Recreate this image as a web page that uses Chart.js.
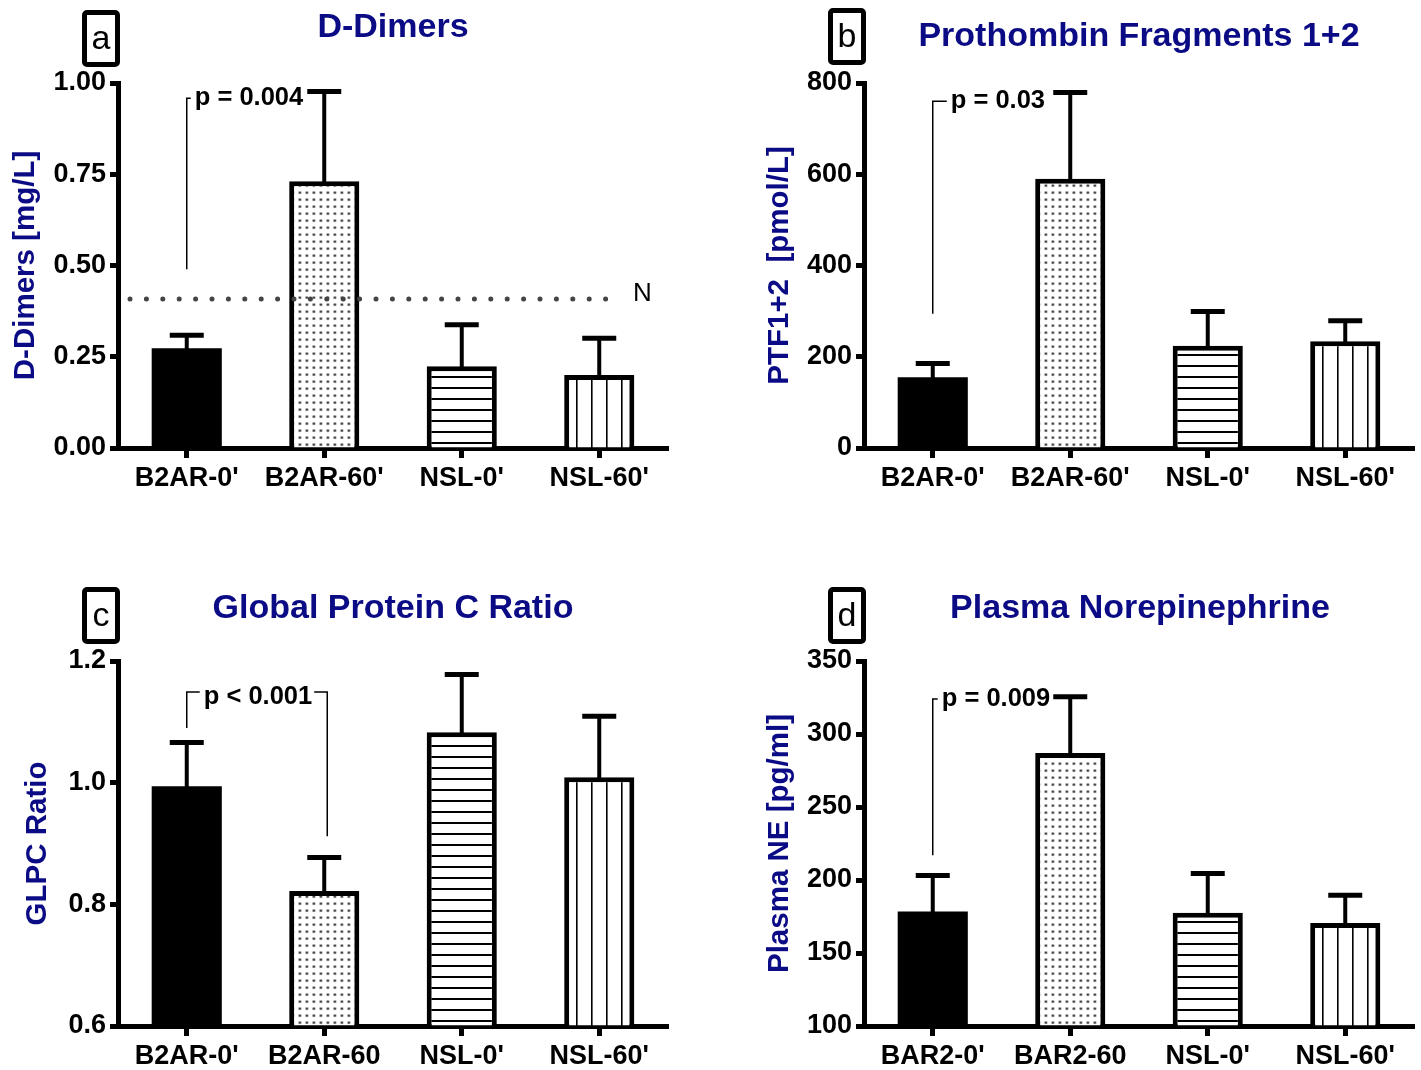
<!DOCTYPE html>
<html>
<head>
<meta charset="utf-8">
<script src="https://cdn.jsdelivr.net/npm/chart.js@4.4.1/dist/chart.umd.min.js"></script>
<style>
  body { margin: 0; background: #fff; font-family: "Liberation Sans", Arial, sans-serif; }
  #page { position: relative; width: 1421px; height: 1070px; overflow: hidden; }
  .panel { position: absolute; }
  .title { position: absolute; width: 700px; text-align: center; font-weight: bold; font-size: 34px; color: #0b0b85; line-height: 40px; }
  .tag { position: absolute; box-sizing: border-box; border: 5px solid #000; border-radius: 5px; width: 38px; height: 57px;
         font-size: 34px; line-height: 44px; text-align: center; color: #000; }
</style>
</head>
<body>
<div id="page">
  <div class="panel" style="left:0;top:0"><canvas id="chartA" width="710" height="535"></canvas></div>
  <div class="panel" style="left:710px;top:0"><canvas id="chartB" width="711" height="535"></canvas></div>
  <div class="panel" style="left:0;top:535px"><canvas id="chartC" width="710" height="535"></canvas></div>
  <div class="panel" style="left:710px;top:535px"><canvas id="chartD" width="711" height="535"></canvas></div>

  <div class="tag" style="left:82px;top:10px">a</div>
  <div class="tag" style="left:828px;top:8px">b</div>
  <div class="tag" style="left:82px;top:587px">c</div>
  <div class="tag" style="left:828px;top:587px">d</div>

  <div class="title" style="left:43px;top:5px">D-Dimers</div>
  <div class="title" style="left:789px;top:14px">Prothombin Fragments 1+2</div>
  <div class="title" style="left:43px;top:586px">Global Protein C Ratio</div>
  <div class="title" style="left:790px;top:586px">Plasma Norepinephrine</div>
</div>

<script>
// --- data ---
const groupsAB = ["B2AR-0'", "B2AR-60'", "NSL-0'", "NSL-60'"];
const groupsC = ["B2AR-0'", "B2AR-60", "NSL-0'", "NSL-60'"];
const groupsD = ["BAR2-0'", "BAR2-60", "NSL-0'", "NSL-60'"];

const dDimerMean = [0.273, 0.731, 0.224, 0.200];
const dDimerErr = [0.036, 0.246, 0.114, 0.101];
const dDimerNormal = 0.408;

const ptfMean = [155, 590, 224, 234];
const ptfErr = [30, 189, 75, 45];

const glpcMean = [0.994, 0.822, 1.083, 1.009];
const glpcErr = [0.072, 0.055, 0.095, 0.100];

const neMean = [178.5, 287, 177.5, 170.5];
const neErr = [24.5, 38.5, 27, 19];

const FONT = '"Liberation Sans", Arial, sans-serif';
const NAVY = '#0b0b85';

// fill for each bar: solid, dotted, horizontal lines, vertical lines
function barFill(chart, i) {
  if (i === 0) return '#000';
  const xs = chart.scales.x;
  if (!xs || !chart.chartArea) return '#fff';
  const cx = xs.getPixelForValue(i);
  const bottom = chart.chartArea.bottom;
  const tile = document.createElement('canvas');
  const t = tile.getContext('2d');
  let dx = 0, dy = 0;
  if (i === 1) {
    tile.width = 7; tile.height = 7;
    t.fillStyle = '#fff'; t.fillRect(0, 0, 7, 7);
    t.fillStyle = '#222'; t.fillRect(2.5, 2.5, 2.2, 2.2);
    dx = cx; dy = bottom;
  } else if (i === 2) {
    tile.width = 8; tile.height = 11;
    t.fillStyle = '#fff'; t.fillRect(0, 0, 8, 11);
    t.fillStyle = '#000'; t.fillRect(0, 0, 8, 2);
    dy = bottom - 6;
  } else {
    tile.width = 15; tile.height = 8;
    t.fillStyle = '#fff'; t.fillRect(0, 0, 15, 8);
    t.fillStyle = '#000'; t.fillRect(0, 0, 1.6, 8);
    dx = cx - 8.3;
  }
  const p = chart.ctx.createPattern(tile, 'repeat');
  p.setTransform(new DOMMatrix().translate(dx, dy));
  return p;
}

// upper error bars
const errorBars = {
  id: 'errorBars',
  afterDatasetsDraw(chart) {
    const ctx = chart.ctx;
    const ds = chart.data.datasets[0];
    const ys = chart.scales.y;
    ctx.save();
    ctx.strokeStyle = '#000';
    chart.getDatasetMeta(0).data.forEach((bar, i) => {
      const top = ys.getPixelForValue(ds.data[i] + ds.errorPlus[i]);
      ctx.lineWidth = 4;
      ctx.beginPath();
      ctx.moveTo(bar.x, bar.y + 3);
      ctx.lineTo(bar.x, top);
      ctx.stroke();
      ctx.lineWidth = 5;
      ctx.beginPath();
      ctx.moveTo(bar.x - 17, top);
      ctx.lineTo(bar.x + 17, top);
      ctx.stroke();
    });
    ctx.restore();
  }
};

// y axis title, brackets with p values, reference line
const extras = {
  id: 'extras',
  afterDraw(chart, args, opts) {
    const ctx = chart.ctx;
    const xs = chart.scales.x, ys = chart.scales.y;
    const area = chart.chartArea;
    ctx.save();

    // axis title
    ctx.translate(opts.titleX, (area.top + area.bottom) / 2);
    ctx.rotate(-Math.PI / 2);
    ctx.fillStyle = NAVY;
    ctx.font = 'bold 29.5px ' + FONT;
    ctx.textAlign = 'center';
    ctx.textBaseline = 'middle';
    ctx.fillText(opts.yTitle, 0, 0);
    ctx.setTransform(1, 0, 0, 1, 0, 0);

    // significance bracket
    const b = opts.bracket;
    const x1 = xs.getPixelForValue(0);
    const yTop = ys.getPixelForValue(b.top);
    ctx.strokeStyle = '#000';
    ctx.lineWidth = 1.5;
    ctx.font = 'bold 25.5px ' + FONT;
    ctx.fillStyle = '#000';
    ctx.textAlign = 'left';
    ctx.textBaseline = 'middle';
    const tw = ctx.measureText(b.text).width;
    ctx.beginPath();
    ctx.moveTo(x1, ys.getPixelForValue(b.from));
    ctx.lineTo(x1, yTop);
    ctx.lineTo(x1 + b.gap - 4, yTop);
    ctx.stroke();
    ctx.fillText(b.text, x1 + b.gap, yTop + b.textDy);
    if (b.to !== undefined) {
      const x2 = xs.getPixelForValue(1) + 3;
      ctx.beginPath();
      ctx.moveTo(x1 + b.gap + tw + 2, yTop);
      ctx.lineTo(x2, yTop);
      ctx.lineTo(x2, ys.getPixelForValue(b.to));
      ctx.stroke();
    }

    // dotted normal line
    if (opts.normal !== undefined) {
      const y = ys.getPixelForValue(opts.normal);
      ctx.strokeStyle = '#444';
      ctx.lineWidth = 5;
      ctx.lineCap = 'round';
      ctx.setLineDash([0, 16.4]);
      ctx.beginPath();
      ctx.moveTo(area.left + 12, y);
      ctx.lineTo(area.right - 54, y);
      ctx.stroke();
      ctx.setLineDash([]);
      ctx.font = '26px ' + FONT;
      ctx.fillStyle = '#000';
      ctx.fillText('N', area.right - 35, y - 5);
    }
    ctx.restore();
  }
};

function makePanel(id, labels, means, errs, scale, axisX, chartTop, extraOpts) {
  const canvas = document.getElementById(id);
  const w = canvas.width, h = canvas.height;
  const bottom = chartTop + 365;
  new Chart(canvas, {
    type: 'bar',
    data: {
      labels: labels,
      datasets: [{
        data: means,
        errorPlus: errs,
        base: scale.min,
        backgroundColor: (c) => barFill(c.chart, c.dataIndex),
        borderColor: '#000',
        // the solid bar needs no outline (avoids a seam inside it)
        borderWidth: (c) => (c.dataIndex === 0 ? 0 : 5),
        borderRadius: 0,
        barPercentage: 0.51,
        categoryPercentage: 1
      }]
    },
    options: {
      responsive: false,
      animation: false,
      events: [],
      layout: { padding: { top: chartTop, right: w - axisX - 550, left: 0, bottom: 0 } },
      plugins: { legend: { display: false }, tooltip: { enabled: false }, extras: extraOpts },
      scales: {
        x: {
          afterFit: (s) => { s.height = h - bottom; },
          grid: { offset: false, drawOnChartArea: false, tickLength: 10, tickWidth: 5, tickColor: '#000' },
          border: { width: 5, color: '#000' },
          ticks: { color: '#000', font: { family: FONT, size: 27, weight: 'bold' }, padding: 4, maxRotation: 0, autoSkip: false }
        },
        y: {
          min: scale.min,
          max: scale.max,
          afterFit: (s) => { s.width = axisX; },
          grid: { drawOnChartArea: false, tickLength: 8, tickWidth: 5, tickColor: '#000' },
          border: { width: 5, color: '#000' },
          ticks: {
            stepSize: scale.step,
            color: '#000',
            padding: 4,
            font: { family: FONT, size: 27, weight: 'bold' },
            callback: (v) => Number(v).toFixed(scale.decimals)
          }
        }
      }
    },
    plugins: [errorBars, extras]
  });
}

makePanel('chartA', groupsAB, dDimerMean, dDimerErr,
  { min: 0, max: 1, step: 0.25, decimals: 2 }, 118, 83,
  { yTitle: 'D-Dimers [mg/L]', titleX: 26, normal: dDimerNormal,
    bracket: { from: 0.49, top: 0.958, gap: 8, text: 'p = 0.004', textDy: 0 } });

makePanel('chartB', groupsAB, ptfMean, ptfErr,
  { min: 0, max: 800, step: 200, decimals: 0 }, 154, 83,
  { yTitle: 'PTF1+2  [pmol/L]', titleX: 70,
    bracket: { from: 294, top: 760, gap: 18, text: 'p = 0.03', textDy: 0 } });

makePanel('chartC', groupsC, glpcMean, glpcErr,
  { min: 0.6, max: 1.2, step: 0.2, decimals: 1 }, 118, 126,
  { yTitle: 'GLPC Ratio', titleX: 38,
    bracket: { from: 1.09, top: 1.149, to: 0.912, gap: 17, text: 'p < 0.001', textDy: 5 } });

makePanel('chartD', groupsD, neMean, neErr,
  { min: 100, max: 350, step: 50, decimals: 0 }, 154, 126,
  { yTitle: 'Plasma NE [pg/ml]', titleX: 70,
    bracket: { from: 217, top: 324, gap: 9, text: 'p = 0.009', textDy: 0 } });
</script>
</body>
</html>
